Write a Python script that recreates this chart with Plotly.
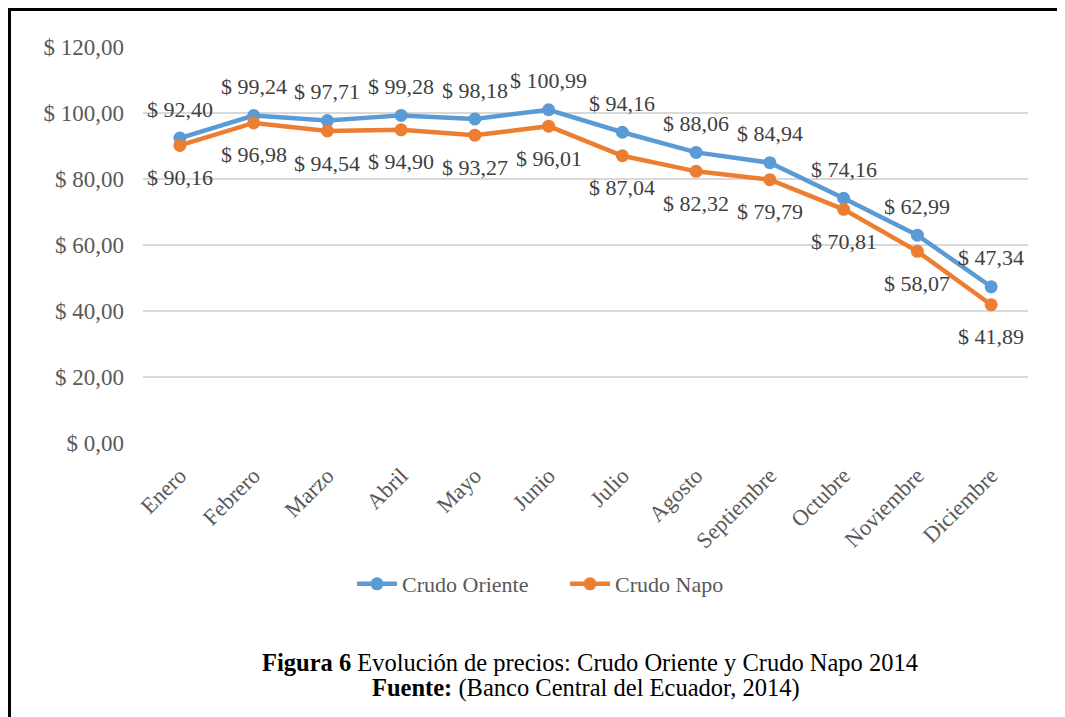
import plotly.graph_objects as go

meses = ["Enero", "Febrero", "Marzo", "Abril", "Mayo", "Junio", "Julio",
         "Agosto", "Septiembre", "Octubre", "Noviembre", "Diciembre"]
crudo_oriente = [92.40, 99.24, 97.71, 99.28, 98.18, 100.99, 94.16,
                 88.06, 84.94, 74.16, 62.99, 47.34]
crudo_napo = [90.16, 96.98, 94.54, 94.90, 93.27, 96.01, 87.04,
              82.32, 79.79, 70.81, 58.07, 41.89]
y_ticks = [0, 20, 40, 60, 80, 100, 120]

AZUL = "#5B9BD5"
NARANJA = "#ED7D31"
GRIS = "#595959"
FONT = "Liberation Serif, Times New Roman, serif"

W, H = 1065, 717
OFF = 8  # page body margin
# plot area in screen pixels
PL, PR, PT, PB = 143, 1028, 47, 443


def fmt(v):
    return "$ " + f"{v:,.2f}".replace(",", "X").replace(".", ",").replace("X", ".")


def px_x(x):
    return (x - PL) / (PR - PL)


def px_y(y):
    return (PB - y) / (PB - PT)


fig = go.Figure()
fig.add_trace(go.Scatter(
    x=meses, y=crudo_oriente, name="Crudo Oriente", mode="lines+markers",
    line=dict(color=AZUL, width=4.5), marker=dict(color=AZUL, size=13),
))
fig.add_trace(go.Scatter(
    x=meses, y=crudo_napo, name="Crudo Napo", mode="lines+markers",
    line=dict(color=NARANJA, width=4.5), marker=dict(color=NARANJA, size=13),
))

# data labels: Oriente above, Napo below
for m, v in zip(meses, crudo_oriente):
    fig.add_annotation(x=m, y=v, text=fmt(v), showarrow=False, yshift=29,
                       font=dict(family=FONT, size=22, color="#404040"))
for m, v in zip(meses, crudo_napo):
    fig.add_annotation(x=m, y=v, text=fmt(v), showarrow=False, yshift=-32,
                       font=dict(family=FONT, size=22, color="#404040"))

# caption
fig.add_annotation(
    xref="paper", yref="paper", x=px_x(590), y=px_y(662), xanchor="center", yanchor="middle",
    text="<b>Figura 6</b> Evolución de precios: Crudo Oriente y Crudo Napo 2014",
    showarrow=False, font=dict(family=FONT, size=24.5, color="black"),
)
fig.add_annotation(
    xref="paper", yref="paper", x=px_x(586), y=px_y(688), xanchor="center", yanchor="middle",
    text="<b>Fuente:</b> (Banco Central del Ecuador, 2014)",
    showarrow=False, font=dict(family=FONT, size=24.5, color="black"),
)

# frame (only left and top edges visible)
fig.add_shape(type="line", xref="paper", yref="paper",
              x0=px_x(9.5), x1=px_x(9.5), y0=px_y(9), y1=px_y(H + 20),
              line=dict(color="black", width=3))
fig.add_shape(type="line", xref="paper", yref="paper",
              x0=px_x(8), x1=px_x(W + 20), y0=px_y(9.5), y1=px_y(9.5),
              line=dict(color="black", width=3))

fig.update_layout(
    width=W, height=H,
    margin=dict(l=PL - OFF, r=W - PR + OFF, t=PT - OFF, b=H - PB + OFF, autoexpand=False),
    plot_bgcolor="white", paper_bgcolor="white",
    font=dict(family=FONT, size=22, color=GRIS),
    showlegend=True,
    legend=dict(orientation="h", x=px_x(352), y=px_y(584), xanchor="left", yanchor="middle",
                font=dict(family=FONT, size=22, color=GRIS), itemwidth=40,
                entrywidth=158),
)
fig.update_xaxes(
    type="category", range=[-0.5, 11.5], tickangle=-45, showgrid=False, showline=False,
    zeroline=False, ticks="", ticklabelstandoff=14,
    tickfont=dict(family=FONT, size=22.5, color=GRIS), automargin=False,
)
fig.update_yaxes(
    range=[0, 120], tickvals=y_ticks, ticktext=[fmt(v) for v in y_ticks],
    showgrid=True, gridcolor="#D9D9D9", gridwidth=1.5, zeroline=False, showline=False,
    ticks="", ticklabelstandoff=18, tickfont=dict(family=FONT, size=23, color=GRIS),
    automargin=False,
)

fig.write_html("out.html")
